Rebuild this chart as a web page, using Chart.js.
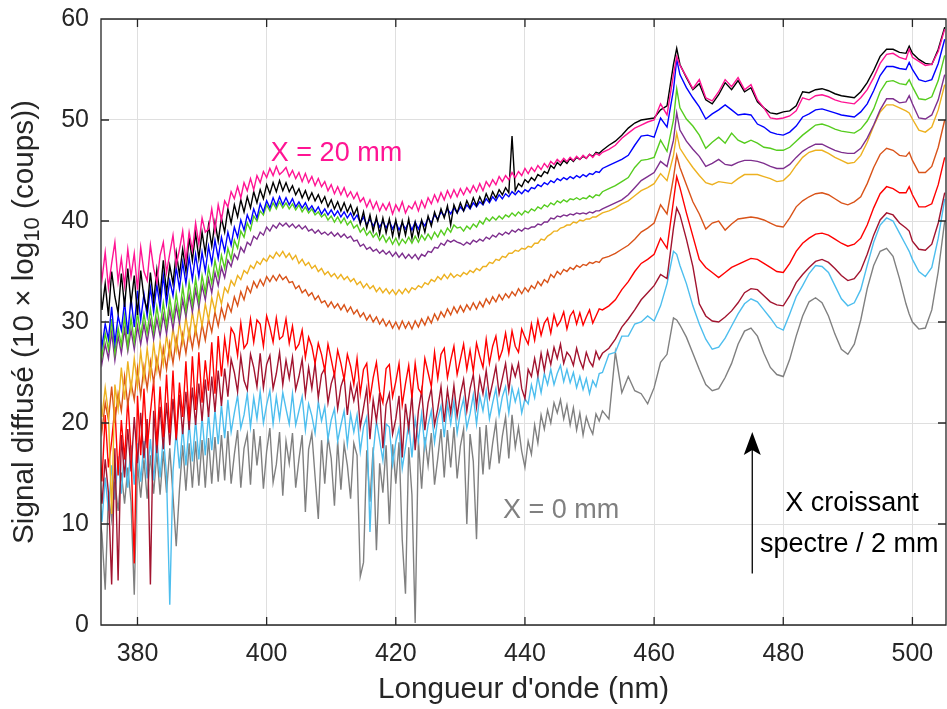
<!DOCTYPE html>
<html>
<head>
<meta charset="utf-8">
<script src="https://cdn.jsdelivr.net/npm/chart.js@4.4.1/dist/chart.umd.min.js"></script>
<style>
  html, body { margin: 0; padding: 0; background: #fff; }
  canvas { display: block; }
</style>
</head>
<body>
<canvas id="chart" width="947" height="709"></canvas>
<script>
// wavelength grid (nm): 0.5 nm through the noisy part, 1 nm after, plus the two sharp peaks
const WAVELENGTH = [
  374, 374.5, 375, 375.5, 376, 376.5, 377, 377.5, 378, 378.5,
  379, 379.5, 380, 380.5, 381, 381.5, 382, 382.5, 383, 383.5,
  384, 384.5, 385, 385.5, 386, 386.5, 387, 387.5, 388, 388.5,
  389, 389.5, 390, 390.5, 391, 391.5, 392, 392.5, 393, 393.5,
  394, 394.5, 395, 395.5, 396, 396.5, 397, 397.5, 398, 398.5,
  399, 399.5, 400, 400.5, 401, 401.5, 402, 402.5, 403, 403.5,
  404, 404.5, 405, 405.5, 406, 406.5, 407, 407.5, 408, 408.5,
  409, 409.5, 410, 410.5, 411, 411.5, 412, 412.5, 413, 413.5,
  414, 414.5, 415, 415.5, 416, 416.5, 417, 417.5, 418, 418.5,
  419, 419.5, 420, 420.5, 421, 421.5, 422, 422.5, 423, 423.5,
  424, 424.5, 425, 425.5, 426, 426.5, 427, 427.5, 428, 428.5,
  429, 429.5, 430, 430.5, 431, 431.5, 432, 432.5, 433, 433.5,
  434, 434.5, 435, 435.5, 436, 436.5, 437, 437.5, 438, 438.5,
  439, 439.5, 440, 440.5, 441, 441.5, 442, 442.5, 443, 443.5,
  444, 444.5, 445, 445.5, 446, 446.5, 447, 447.5, 448, 448.5,
  449, 449.5, 450, 450.5, 451, 451.5,
  452, 453, 454, 455, 456, 457, 458, 459, 460, 461, 462, 463,
  463.5,
  464, 465, 466, 467, 468, 469, 470, 471, 472, 473,
  474, 475, 476, 477, 478, 479, 480, 481, 482, 483,
  484, 485, 486, 487, 488, 489, 490, 491, 492, 493,
  494, 495, 496, 497, 498, 499,
  499.5,
  500, 501, 502, 503, 504, 505
];

// one spectrum per 2 mm step, X = 20 mm down to X = 0 mm
const X20 = [
  37.6, 34.2, 36.9, 33.4, 35.8, 37.9, 34.0, 36.3, 33.6, 37.2,
  34.5, 36.8, 33.2, 37.4, 35.0, 34.1, 37.6, 35.3, 33.9, 36.6,
  37.9, 34.9, 36.8, 38.6, 35.6, 37.2, 39.0, 36.0, 38.9, 37.1,
  39.8, 37.7, 40.3, 38.9, 39.2, 41.2, 39.0, 41.6, 40.1, 42.0,
  41.4, 42.9, 42.2, 43.4, 42.3, 43.8, 43.0, 44.2, 43.1, 44.5,
  43.8, 44.9, 44.3, 45.2, 44.5, 45.4, 44.6, 44.9, 45.3, 44.4,
  45.0, 44.2, 44.8, 43.9, 44.7, 43.8, 44.4, 43.5, 44.2, 43.4,
  43.9, 43.0, 43.6, 42.7, 43.4, 42.6, 43.3, 42.4, 42.9, 42.2,
  42.8, 41.9, 42.3, 41.4, 42.1, 41.2, 41.9, 41.0, 41.7, 41.1,
  41.8, 40.7, 41.6, 41.0, 41.9, 40.8, 41.5, 41.2, 41.9, 41.0,
  42.0, 41.3, 42.3, 41.7, 42.6, 41.9, 42.8, 42.1, 43.0, 42.3,
  43.1, 42.4, 43.2, 42.6, 43.3, 42.8, 43.5, 42.9, 43.7, 43.0,
  43.9, 43.4, 44.1, 43.6, 44.4, 43.9, 44.5, 44.1, 44.8, 44.3,
  44.9, 44.5, 45.2, 44.7, 45.3, 44.9, 45.5, 45.1, 45.7, 45.3,
  45.9, 45.6, 46.1, 45.8, 46.2, 45.9, 46.3, 46.0, 46.4, 46.1,
  46.5, 46.2, 46.6, 46.3, 46.7, 46.5,
  46.8, 47.1, 47.5, 48.2, 48.7, 49.2, 49.5, 49.8, 50.0, 51.6, 50.5, 54.5,
  56.3,
  55.4, 54.3, 53.1, 54.0, 52.2, 51.9, 52.8, 54.0, 53.3, 54.2,
  53.0, 53.5, 52.0, 51.2, 50.2, 50.1, 50.2, 50.4, 50.9, 52.2,
  52.0, 52.4, 52.5, 52.3, 52.0, 51.8, 51.7, 51.6, 52.2, 53.0,
  54.2, 55.6, 56.5, 56.6, 56.2, 56.0,
  57.0,
  56.2, 55.8, 55.4, 55.5, 56.8, 59.0
];
const X18 = [
  35.6, 31.2, 33.8, 30.6, 35.0, 32.5, 30.9, 34.8, 31.5, 35.3,
  31.8, 34.6, 30.7, 35.1, 32.4, 31.2, 34.9, 32.0, 35.2, 32.6,
  36.1, 32.9, 35.6, 33.8, 36.9, 34.7, 37.2, 35.0, 38.3, 36.1,
  38.8, 36.3, 38.9, 36.8, 39.6, 37.5, 39.9, 38.0, 40.3, 38.9,
  41.2, 39.8, 41.6, 40.4, 42.1, 40.9, 42.4, 41.3, 42.9, 41.8,
  43.1, 42.2, 43.6, 42.7, 43.8, 42.9, 44.0, 43.0, 43.8, 42.9,
  43.5, 42.6, 43.2, 42.3, 43.0, 42.1, 42.8, 42.0, 42.6, 41.8,
  42.4, 41.4, 42.1, 41.2, 41.9, 41.0, 41.8, 40.9, 41.6, 40.6,
  41.3, 39.7, 40.9, 39.3, 40.6, 39.0, 40.4, 38.7, 40.3, 38.8,
  40.2, 38.5, 40.1, 38.4, 40.0, 38.6, 40.2, 38.3, 39.9, 38.5,
  40.1, 38.9, 40.5, 39.5, 40.9, 40.0, 41.2, 40.3, 41.5, 39.6,
  41.6, 40.8, 41.8, 41.0, 42.0, 41.3, 42.3, 41.5, 42.4, 41.7,
  42.7, 42.0, 42.9, 42.3, 43.1, 42.6, 43.3, 42.8, 48.4, 43.0,
  43.7, 43.4, 44.1, 43.8, 44.3, 44.0, 44.6, 44.4, 44.9, 44.7,
  45.5, 45.2, 45.8, 45.5, 46.0, 45.7, 46.2, 45.9, 46.3, 46.1,
  46.4, 46.2, 46.6, 46.4, 46.8, 46.7,
  47.0, 47.5, 47.9, 48.5, 49.2, 49.7, 50.0, 50.1, 50.2, 51.0, 51.4, 55.5,
  57.1,
  55.5, 54.2, 53.0, 53.6, 52.0, 51.6, 52.5, 53.7, 53.0, 53.9,
  52.8, 53.2, 51.8, 51.2, 50.7, 50.6, 50.8, 50.9, 51.4, 52.8,
  52.7, 53.0, 53.1, 52.9, 52.6, 52.4, 52.3, 52.2, 52.8, 53.7,
  54.9, 56.3, 57.0, 57.0, 56.7, 56.6,
  57.3,
  56.6, 56.0, 55.6, 55.5, 57.0, 59.2
];
const X16 = [
  31.0, 27.6, 29.8, 28.3, 31.5, 27.9, 30.6, 29.2, 32.0, 28.8,
  32.4, 29.5, 33.1, 30.2, 32.8, 30.6, 33.4, 31.0, 33.7, 31.4,
  34.6, 31.8, 34.1, 32.6, 35.4, 33.3, 35.9, 33.8, 36.4, 34.2,
  36.7, 34.5, 36.9, 35.0, 37.5, 35.8, 38.1, 36.3, 38.4, 37.0,
  38.9, 37.6, 39.4, 38.4, 40.1, 39.1, 40.6, 39.8, 41.2, 40.3,
  41.7, 40.9, 42.0, 41.3, 42.3, 41.5, 42.4, 41.6, 42.3, 41.6,
  42.2, 41.4, 41.9, 41.3, 41.8, 41.1, 41.5, 40.9, 41.4, 40.7,
  41.2, 40.6, 41.1, 40.5, 41.0, 40.4, 40.9, 40.3, 40.8, 40.1,
  40.6, 39.8, 40.4, 39.6, 40.2, 39.5, 40.1, 39.4, 40.0, 39.3,
  40.0, 39.2, 39.9, 39.1, 39.8, 39.2, 39.9, 39.1, 39.9, 39.2,
  40.0, 39.5, 40.3, 39.8, 40.6, 40.2, 40.9, 40.5, 41.2, 40.7,
  41.3, 40.8, 41.4, 41.0, 41.6, 41.2, 41.8, 41.4, 41.9, 41.6,
  42.2, 41.8, 42.4, 42.0, 42.6, 42.2, 42.7, 42.4, 42.9, 42.6,
  43.0, 42.7, 43.1, 42.9, 43.3, 43.2, 43.6, 43.4, 43.8, 43.6,
  44.0, 43.8, 44.2, 44.0, 44.3, 44.1, 44.4, 44.2, 44.5, 44.3,
  44.6, 44.4, 44.7, 44.6, 44.9, 44.8,
  45.2, 45.5, 45.8, 46.1, 46.5, 47.5, 48.4, 48.5, 48.3, 50.2, 49.3, 53.0,
  56.0,
  54.5, 53.2, 52.2, 51.3, 50.1, 50.6, 51.0, 51.5, 51.0, 50.5,
  50.6, 50.5, 49.6, 49.3, 48.8, 48.6, 48.5, 48.8, 49.4, 50.3,
  50.6, 51.0, 51.1, 50.9, 50.7, 50.5, 50.4, 50.3, 50.8, 51.6,
  52.9, 54.4, 55.3, 55.3, 55.1, 55.0,
  55.7,
  55.0, 54.0, 53.8, 54.0, 55.6, 58.0
];
const X14 = [
  29.8, 26.6, 28.9, 27.3, 30.3, 26.9, 29.4, 27.7, 30.6, 27.5,
  30.4, 28.0, 31.0, 28.6, 30.8, 28.9, 31.3, 29.0, 31.5, 29.4,
  31.9, 29.6, 32.4, 30.2, 32.8, 30.6, 33.5, 31.1, 33.9, 31.7,
  34.3, 32.0, 34.6, 32.9, 35.4, 33.8, 36.1, 34.5, 36.6, 35.3,
  37.3, 36.2, 38.1, 37.3, 39.0, 38.4, 39.8, 39.1, 40.5, 40.0,
  41.0, 40.6, 41.6, 41.0, 41.8, 41.2, 41.9, 41.3, 41.8, 41.2,
  41.7, 41.1, 41.6, 40.9, 41.4, 40.8, 41.2, 40.6, 40.9, 40.4,
  40.7, 40.1, 40.5, 39.9, 40.4, 39.8, 40.3, 39.6, 40.0, 39.3,
  39.6, 38.9, 39.3, 38.6, 39.0, 38.4, 38.8, 38.1, 38.6, 37.9,
  38.4, 37.7, 38.3, 37.6, 38.2, 37.8, 38.4, 37.8, 38.5, 37.9,
  38.6, 38.1, 38.7, 38.2, 38.9, 38.4, 39.1, 38.6, 39.3, 38.9,
  39.6, 39.3, 39.4, 39.0, 39.5, 39.2, 39.7, 39.4, 40.0, 39.7,
  40.3, 40.0, 40.4, 40.1, 40.5, 40.2, 40.6, 40.4, 40.8, 40.5,
  40.9, 40.6, 41.0, 40.8, 41.2, 41.0, 41.4, 41.2, 41.6, 41.4,
  41.8, 41.6, 42.0, 41.8, 42.1, 41.9, 42.2, 42.1, 42.3, 42.1,
  42.3, 42.2, 42.5, 42.3, 42.6, 42.5,
  42.9, 43.2, 43.5, 43.9, 44.3, 45.3, 46.0, 46.1, 46.3, 48.0, 46.9, 50.0,
  53.1,
  51.2, 50.1, 49.4, 48.5, 47.2, 47.8, 48.3, 47.7, 48.7, 48.0,
  47.7, 48.0, 47.7, 47.3, 47.2, 47.0, 47.0, 47.3, 47.9, 48.5,
  49.0, 49.5, 49.6, 49.4, 49.1, 48.9, 48.8, 48.7, 49.1, 49.9,
  51.1, 52.8, 53.8, 53.9, 53.6, 53.5,
  54.0,
  53.3, 52.1, 52.0, 52.3, 53.9, 56.4
];
const X12 = [
  28.3, 25.9, 27.8, 26.4, 29.0, 26.2, 28.6, 26.9, 29.3, 27.1,
  29.2, 27.3, 29.6, 27.8, 29.8, 28.0, 30.1, 28.3, 30.3, 28.6,
  30.7, 28.8, 31.2, 29.3, 31.6, 29.9, 32.2, 30.5, 32.7, 31.0,
  33.2, 31.4, 33.6, 32.2, 34.3, 32.9, 34.9, 33.6, 35.4, 34.4,
  36.1, 35.5, 36.7, 36.2, 37.4, 36.9, 37.9, 37.6, 38.5, 38.2,
  38.9, 38.6, 39.4, 39.0, 39.6, 39.3, 39.8, 39.5, 39.8, 39.4,
  39.7, 39.3, 39.6, 39.2, 39.5, 39.0, 39.2, 38.8, 39.1, 38.7,
  38.9, 38.6, 38.9, 38.5, 38.8, 38.4, 38.7, 38.3, 38.5, 38.0,
  38.1, 37.5, 37.7, 37.2, 37.4, 37.0, 37.2, 36.8, 37.1, 36.7,
  37.0, 36.5, 36.9, 36.4, 36.8, 36.3, 36.7, 36.3, 36.7, 36.2,
  36.7, 36.5, 37.0, 36.9, 37.4, 37.3, 37.8, 37.6, 38.1, 37.9,
  38.1, 37.9, 37.8, 37.6, 37.9, 37.7, 38.1, 37.9, 38.2, 38.0,
  38.4, 38.2, 38.6, 38.4, 38.8, 38.6, 38.9, 38.7, 39.1, 38.9,
  39.2, 39.0, 39.3, 39.2, 39.4, 39.4, 39.7, 39.6, 39.9, 39.9,
  40.3, 40.2, 40.5, 40.4, 40.6, 40.5, 40.7, 40.6, 40.8, 40.7,
  40.8, 40.7, 40.9, 40.8, 41.0, 41.0,
  41.2, 41.5, 41.8, 42.1, 42.6, 43.3, 44.0, 44.4, 44.8, 45.9, 45.4, 48.0,
  50.7,
  49.0, 47.9, 47.1, 46.4, 45.4, 45.7, 46.1, 45.6, 45.5, 45.8,
  46.0, 46.0, 45.9, 45.7, 45.4, 45.2, 45.2, 45.6, 46.3, 46.9,
  47.3, 47.6, 47.6, 47.3, 47.0, 46.8, 46.7, 46.7, 47.2, 48.2,
  49.5, 51.0, 52.1, 52.1, 51.7, 51.8,
  52.4,
  51.6, 50.2, 50.1, 50.5, 52.0, 54.5
];
const X10 = [
  24.2, 20.6, 23.5, 21.0, 11.0, 23.8, 21.4, 25.5, 22.3, 26.1,
  23.2, 26.4, 23.7, 27.1, 24.3, 27.4, 24.6, 27.9, 25.2, 28.0,
  25.8, 28.7, 26.6, 29.4, 27.2, 30.0, 27.9, 30.5, 28.4, 31.0,
  28.9, 31.4, 29.6, 31.8, 30.2, 32.4, 31.1, 33.0, 31.8, 33.4,
  32.9, 34.1, 33.6, 34.6, 34.2, 35.1, 34.8, 35.6, 35.3, 36.0,
  35.7, 36.3, 36.0, 36.6, 36.3, 36.9, 36.5, 37.0, 36.4, 36.8,
  36.2, 36.6, 35.8, 36.2, 35.6, 35.9, 35.3, 35.6, 35.0, 35.3,
  34.7, 35.0, 34.5, 34.8, 34.3, 34.7, 34.2, 34.5, 34.0, 34.3,
  33.7, 34.0, 33.4, 33.8, 33.3, 33.6, 33.0, 33.4, 32.9, 33.3,
  32.8, 33.2, 32.7, 33.2, 32.8, 33.3, 32.9, 33.4, 33.2, 33.6,
  33.4, 33.9, 33.7, 34.2, 34.0, 34.5, 34.2, 34.7, 34.3, 34.8,
  34.4, 34.7, 34.5, 34.9, 34.7, 35.1, 34.9, 35.3, 35.1, 35.5,
  35.5, 35.9, 35.8, 36.2, 36.1, 36.5, 36.4, 36.8, 36.8, 37.1,
  37.0, 37.3, 37.2, 37.5, 37.4, 37.8, 37.8, 38.2, 38.1, 38.5,
  38.7, 39.0, 39.0, 39.3, 39.4, 39.6, 39.6, 39.9, 39.8, 40.1,
  40.0, 40.2, 40.2, 40.4, 40.4, 40.6,
  40.8, 41.0, 41.3, 41.7, 42.0, 42.5, 43.0, 43.3, 43.7, 44.7, 44.0, 46.5,
  48.7,
  47.2, 46.2, 45.3, 44.5, 43.8, 43.6, 43.9, 43.8, 43.7, 44.2,
  44.6, 44.6, 44.6, 44.4, 44.2, 43.9, 44.0, 44.6, 45.5, 46.3,
  46.8, 47.0, 47.0, 46.7, 46.3, 46.0, 45.7, 45.8, 46.5, 47.8,
  49.4, 50.8, 51.5, 51.5, 51.2, 50.9,
  50.7,
  50.1, 49.0, 48.8, 49.3, 51.0, 53.5
];
const X8 = [
  22.6, 19.2, 22.0, 20.3, 23.6, 20.0, 22.9, 21.2, 24.6, 21.8,
  24.0, 22.3, 25.4, 22.7, 25.6, 23.4, 26.1, 24.0, 26.4, 24.6,
  27.4, 25.3, 27.9, 25.9, 28.4, 26.5, 28.8, 26.9, 29.2, 27.4,
  29.4, 27.6, 29.8, 28.2, 30.3, 29.0, 31.0, 29.6, 31.4, 30.3,
  31.8, 31.0, 32.5, 31.6, 33.0, 32.2, 33.5, 32.9, 34.0, 33.4,
  34.2, 33.6, 34.5, 34.0, 34.6, 34.1, 34.7, 34.2, 34.5, 33.9,
  34.0, 33.3, 33.6, 32.9, 33.2, 32.6, 32.9, 32.2, 32.6, 31.9,
  32.1, 31.5, 32.0, 31.4, 31.8, 31.2, 31.7, 31.0, 31.5, 30.8,
  31.2, 30.5, 30.9, 30.2, 30.7, 30.0, 30.5, 29.8, 30.3, 29.6,
  30.1, 29.4, 30.0, 29.3, 30.1, 29.4, 30.0, 29.3, 30.1, 29.5,
  30.3, 29.7, 30.5, 29.9, 30.8, 30.2, 31.0, 30.5, 31.3, 30.7,
  31.5, 30.9, 31.6, 31.0, 31.7, 31.2, 31.9, 31.3, 32.0, 31.5,
  32.3, 31.8, 32.5, 32.0, 32.7, 32.2, 32.8, 32.4, 33.0, 32.6,
  33.3, 32.8, 33.4, 33.0, 33.6, 33.3, 34.0, 33.6, 34.2, 33.9,
  34.7, 34.4, 35.0, 34.7, 35.2, 35.0, 35.4, 35.2, 35.6, 35.4,
  35.7, 35.6, 35.9, 35.8, 36.0, 35.9,
  36.3, 36.5, 36.8, 37.2, 37.6, 38.2, 38.9, 39.3, 39.8, 41.6, 40.7, 44.3,
  46.5,
  45.3, 43.6, 41.9, 40.7, 39.2, 39.8, 40.0, 39.1, 39.7, 40.2,
  40.3, 40.4, 40.3, 40.1, 39.8, 39.5, 39.4, 40.3, 41.4, 42.0,
  42.4, 42.7, 42.8, 42.6, 42.2, 41.8, 41.6, 41.9, 42.4, 43.7,
  45.3, 46.6, 47.2, 47.0, 46.5, 46.4,
  46.8,
  46.0, 44.8, 44.8, 45.4, 47.3, 50.0
];
const X6 = [
  19.4, 14.2, 20.8, 15.6, 18.2, 21.6, 14.8, 20.3, 16.4, 22.4,
  17.2, 6.1, 22.7, 16.8, 23.4, 17.5, 21.0, 24.2, 17.8, 23.6,
  18.6, 24.8, 19.0, 25.2, 18.5, 24.0, 20.6, 26.1, 20.2, 26.6,
  21.3, 27.0, 22.0, 26.2, 23.2, 28.0, 22.9, 28.6, 24.6, 28.4,
  26.0, 29.4, 28.8, 26.7, 29.9, 27.4, 27.9, 30.3, 28.0, 30.2,
  29.8, 27.6, 30.6, 29.5, 28.0, 30.4, 28.3, 28.6, 30.3, 27.9,
  29.6, 27.3, 27.8, 29.2, 26.5, 28.5, 27.6, 25.9, 27.9, 26.8,
  25.2, 27.8, 26.3, 24.7, 27.2, 25.9, 24.3, 26.8, 25.6, 23.8,
  26.4, 22.9, 25.3, 25.9, 22.4, 24.5, 26.0, 23.1, 22.0, 25.4,
  25.8, 22.6, 24.1, 25.9, 21.8, 23.9, 25.7, 22.5, 25.9, 23.4,
  22.9, 26.4, 25.0, 23.6, 27.0, 24.4, 26.8, 27.4, 24.5, 26.2,
  27.6, 24.8, 26.3, 27.8, 25.3, 27.2, 25.1, 27.9, 26.6, 25.5,
  28.3, 25.9, 27.6, 28.6, 26.3, 27.2, 28.9, 26.9, 29.1, 27.6,
  27.0, 29.3, 28.5, 27.8, 29.8, 28.2, 30.2, 28.7, 29.9, 30.4,
  28.9, 30.7, 29.6, 30.1, 31.0, 29.3, 30.6, 31.1, 29.8, 30.9,
  29.7, 30.5, 31.2, 29.9, 30.6, 31.3,
  31.2, 31.6, 32.2, 33.2, 34.0, 35.0, 35.8, 36.2, 36.7, 38.3, 37.3, 42.0,
  44.4,
  43.3, 40.8, 38.5, 36.2, 35.4, 34.9, 34.4, 34.9, 35.4, 35.7,
  36.0, 36.3, 36.2, 35.8, 35.4, 35.0, 34.9, 35.8, 37.0, 37.8,
  38.3, 38.7, 38.8, 38.6, 38.2, 37.8, 37.5, 37.7, 38.3, 39.6,
  41.3, 42.7, 43.4, 43.2, 42.8, 42.8,
  43.4,
  42.6, 41.4, 41.4, 41.7, 43.6, 46.3
];
const X4 = [
  15.6, 12.0, 16.4, 13.1, 4.0, 17.5, 4.4, 18.8, 14.6, 19.4,
  15.2, 20.6, 16.0, 21.0, 16.5, 20.4, 4.0, 21.2, 17.0, 21.6,
  17.4, 22.0, 17.8, 22.4, 18.3, 22.8, 18.9, 23.1, 19.3, 23.5,
  19.8, 23.9, 20.2, 24.3, 20.6, 24.6, 21.1, 25.2, 21.7, 25.4,
  22.6, 26.3, 25.0, 23.1, 26.6, 24.2, 23.3, 26.8, 25.5, 23.6,
  26.9, 23.5, 25.8, 26.7, 23.4, 24.9, 27.0, 23.8, 26.2, 24.4,
  26.5, 23.3, 24.6, 26.3, 22.8, 25.5, 23.4, 25.9, 22.5, 24.8,
  25.4, 22.0, 23.9, 24.9, 21.4, 23.6, 24.6, 20.8, 23.8, 22.2,
  23.7, 19.6, 21.5, 23.4, 18.4, 22.3, 20.2, 23.0, 17.5, 21.8,
  22.9, 18.9, 20.4, 22.7, 16.6, 21.9, 19.4, 22.8, 17.3, 21.2,
  23.2, 19.3, 22.0, 23.4, 19.8, 21.4, 23.6, 20.1, 23.3, 21.0,
  23.7, 20.7, 22.8, 24.3, 21.2, 23.4, 24.8, 21.6, 24.5, 22.9,
  25.2, 22.5, 24.0, 25.6, 22.9, 24.4, 25.9, 23.2, 25.7, 24.6,
  25.9, 23.4, 22.4, 25.3, 24.6, 26.4, 24.7, 26.9, 25.2, 27.1,
  25.8, 27.5, 26.4, 27.8, 25.9, 27.0, 26.6, 25.7, 27.4, 26.2,
  25.4, 27.0, 26.1, 25.6, 27.1, 26.3,
  26.9, 27.4, 28.3, 29.5, 30.3, 31.2, 32.2, 32.9, 33.6, 34.7, 34.3, 39.3,
  41.3,
  40.6, 38.2, 35.5, 31.8, 30.6, 30.1, 30.0, 30.5, 31.1, 31.9,
  32.9, 33.3, 33.2, 32.6, 32.0, 31.7, 31.6, 32.6, 33.9, 34.7,
  35.4, 36.0, 36.2, 35.9, 35.3, 34.6, 34.1, 34.3, 35.1, 36.7,
  38.6, 40.1, 40.8, 40.6, 39.8, 39.3,
  39.0,
  38.0, 37.2, 37.1, 37.7, 39.8, 42.8
];
const X2 = [
  13.4, 10.2, 14.6, 11.3, 15.8, 12.4, 16.7, 13.0, 17.5, 13.6,
  17.8, 13.9, 18.0, 14.2, 18.2, 14.5, 18.4, 14.3, 18.6, 14.6,
  18.7, 14.8, 2.0, 15.2, 19.2, 15.5, 19.6, 15.8, 20.0, 16.2,
  20.3, 16.4, 20.6, 16.8, 20.9, 17.3, 21.3, 17.9, 21.8, 18.5,
  22.3, 19.1, 21.0, 22.7, 19.5, 20.8, 22.9, 19.6, 22.5, 20.4,
  23.1, 20.0, 21.8, 23.2, 19.9, 22.6, 20.4, 23.0, 21.4, 19.9,
  22.9, 19.8, 21.2, 22.6, 19.3, 21.9, 20.7, 19.0, 22.1, 20.2,
  21.6, 18.4, 20.3, 21.4, 18.2, 19.8, 21.2, 17.9, 20.9, 19.1,
  20.8, 17.2, 19.6, 20.6, 9.2, 17.0, 20.2, 18.3, 16.3, 19.9,
  19.6, 15.9, 18.1, 19.5, 15.5, 17.6, 20.0, 16.6, 20.4, 18.2,
  20.9, 17.6, 19.8, 21.2, 18.1, 20.5, 21.7, 18.6, 21.9, 19.9,
  22.2, 19.0, 21.1, 22.4, 19.5, 20.9, 22.8, 19.9, 22.7, 21.2,
  23.2, 20.4, 22.0, 23.4, 20.8, 22.6, 23.6, 21.0, 23.5, 22.1,
  23.3, 21.0, 22.4, 21.9, 23.8, 22.5, 24.6, 23.0, 24.9, 23.8,
  25.3, 23.8, 24.9, 25.7, 24.1, 25.3, 24.0, 25.0, 23.5, 24.6,
  23.3, 24.4, 22.9, 24.2, 23.6, 24.9,
  25.0, 26.8, 27.0, 28.6, 28.6, 29.8, 30.0, 30.6, 30.1, 31.6, 33.8, 37.0,
  36.7,
  35.6, 33.8, 31.6, 29.8, 28.3, 27.3, 27.5, 28.4, 29.6, 30.8,
  31.8, 32.3, 32.0, 31.2, 30.4, 29.5, 29.2, 30.8, 32.5, 33.6,
  34.8, 35.6, 35.5, 34.9, 33.6, 32.3, 31.6, 31.9, 33.2, 35.6,
  37.9, 39.6, 40.3, 40.0, 38.8, 37.6,
  37.0,
  36.2, 35.0, 34.5, 35.4, 38.3, 42.2
];
const X0 = [
  11.6, 9.0, 3.5, 12.8, 10.4, 14.2, 11.3, 15.1, 12.0, 15.6,
  12.2, 3.0, 16.0, 12.6, 16.4, 12.5, 16.8, 13.0, 17.1, 12.9,
  17.2, 13.1, 17.5, 12.8, 7.8, 13.4, 17.8, 13.3, 18.0, 13.6,
  18.2, 13.8, 18.3, 13.6, 18.5, 14.0, 18.6, 14.2, 18.8, 14.3,
  19.2, 14.0, 16.9, 19.3, 13.6, 17.5, 18.9, 13.9, 19.4, 15.8,
  18.7, 13.5, 17.2, 19.5, 14.1, 15.9, 19.1, 12.8, 18.2, 16.0,
  19.0, 13.6, 16.4, 18.8, 11.2, 17.4, 19.0, 14.7, 10.5, 18.3,
  14.0, 18.6, 16.5, 11.8, 18.2, 13.4, 17.9, 15.8, 12.5, 18.0,
  16.8, 4.8, 6.2, 17.3, 12.2, 17.6, 7.4, 16.0, 13.1, 17.8,
  10.0, 17.9, 14.0, 18.1, 8.4, 3.1, 17.6, 12.9, 0.2, 18.3,
  13.5, 18.6, 15.8, 19.0, 13.9, 16.5, 19.4, 14.6, 19.3, 15.6,
  19.6, 14.5, 17.7, 19.4, 10.0, 18.9, 16.2, 8.5, 19.6, 14.9,
  19.8, 15.4, 18.0, 20.1, 16.0, 18.7, 20.6, 16.5, 20.8, 17.6,
  19.6, 17.2, 15.6, 18.2, 16.9, 19.8, 18.0, 20.8, 19.4, 21.3,
  20.0, 22.0, 21.0, 22.3, 20.4, 21.8, 19.8, 21.5, 19.3, 21.0,
  18.8, 20.6, 19.6, 18.9, 20.9, 20.2,
  21.2, 20.4, 27.0, 23.0, 24.6, 23.2, 22.9, 21.9, 23.5, 26.0, 26.8, 30.4,
  30.2,
  29.7, 28.5, 26.9, 25.3, 23.8, 23.2, 23.4, 24.5, 25.9, 27.8,
  29.1, 29.4, 28.6, 26.9, 25.5, 24.8, 24.6, 26.3, 28.6, 30.6,
  32.0, 32.4, 31.9, 30.6, 28.8, 27.3, 26.8, 27.8, 30.2, 33.3,
  35.6, 37.0, 37.3, 36.5, 34.3, 31.8,
  30.8,
  30.0, 29.3, 29.4, 31.2, 35.0, 40.0
];

const XTICKS = [380, 400, 420, 440, 460, 480, 500];
const YTICKS = [0, 10, 20, 30, 40, 50, 60];

const FONT = '"Liberation Sans", Arial, Helvetica, sans-serif';
const INK = "#262626";

// first entry is drawn on top (Chart.js paints dataset 0 last)
const series = [
  { name: "X = 20 mm", values: X20, color: "#ff1493" },
  { name: "X = 18 mm", values: X18, color: "#000000" },
  { name: "X = 16 mm", values: X16, color: "#0000ff" },
  { name: "X = 14 mm", values: X14, color: "#55cc1e" },
  { name: "X = 12 mm", values: X12, color: "#7e2f8e" },
  { name: "X = 10 mm", values: X10, color: "#edb120" },
  { name: "X = 8 mm",  values: X8,  color: "#d95319" },
  { name: "X = 6 mm",  values: X6,  color: "#ff0000" },
  { name: "X = 4 mm",  values: X4,  color: "#a2142f" },
  { name: "X = 2 mm",  values: X2,  color: "#4dbeee" },
  { name: "X = 0 mm",  values: X0,  color: "#808080" }
];
series.forEach(s => { if (s.values.length !== WAVELENGTH.length) console.warn(s.name, s.values.length, WAVELENGTH.length); });

// text placed in data units (nm, signal), like text() calls on the axes
const notes = [
  { text: "X = 20 mm", nm: 400.65, v: 45.95, color: "#ff1493" },
  { text: "X = 0 mm", nm: 436.6, v: 10.55, color: "#808080" },
  { text: "X croissant", nm: 480.3, v: 11.3, color: "#000000" },
  { text: "spectre / 2 mm", nm: 476.4, v: 7.2, color: "#000000" }
];
const arrow = { nm: 475.2, from: 5.1, to: 19.1 };

const frame = {
  id: "frame",
  afterDraw(chart) {
    const { ctx, chartArea: a, scales: { x, y } } = chart;
    ctx.save();
    // box and inward ticks on all four sides
    ctx.strokeStyle = INK; ctx.lineWidth = 1.3;
    ctx.beginPath();
    ctx.rect(a.left, a.top, a.right - a.left, a.bottom - a.top);
    XTICKS.forEach(v => {
      const p = x.getPixelForValue(v);
      ctx.moveTo(p, a.bottom); ctx.lineTo(p, a.bottom - 8);
      ctx.moveTo(p, a.top); ctx.lineTo(p, a.top + 8);
    });
    YTICKS.forEach(v => {
      const p = y.getPixelForValue(v);
      ctx.moveTo(a.left, p); ctx.lineTo(a.left + 8, p);
      ctx.moveTo(a.right, p); ctx.lineTo(a.right - 8, p);
    });
    ctx.stroke();

    // x title
    ctx.fillStyle = INK; ctx.textBaseline = "alphabetic";
    ctx.font = `29.7px ${FONT}`; ctx.textAlign = "center";
    ctx.fillText("Longueur d'onde (nm)", (a.left + a.right) / 2, 698);

    // y title with subscript, rotated
    const big = `29.7px ${FONT}`, small = `22px ${FONT}`;
    const parts = [
      { t: "Signal diffus\u00e9 (10 \u00d7 log", f: big, dy: 0 },
      { t: "10", f: small, dy: 6 },
      { t: " (coups))", f: big, dy: 0 }
    ];
    let total = 0;
    parts.forEach(p => { ctx.font = p.f; p.w = ctx.measureText(p.t).width; total += p.w; });
    ctx.translate(33, (a.top + a.bottom) / 2);
    ctx.rotate(-Math.PI / 2);
    ctx.textAlign = "left";
    let cx = -total / 2;
    parts.forEach(p => { ctx.font = p.f; ctx.fillText(p.t, cx, p.dy); cx += p.w; });
    ctx.setTransform(1, 0, 0, 1, 0, 0);

    // annotations
    ctx.font = `27px ${FONT}`; ctx.textAlign = "left";
    notes.forEach(n => {
      ctx.fillStyle = n.color;
      ctx.fillText(n.text, x.getPixelForValue(n.nm), y.getPixelForValue(n.v));
    });
    const ax = x.getPixelForValue(arrow.nm), ay0 = y.getPixelForValue(arrow.from), ay1 = y.getPixelForValue(arrow.to);
    ctx.strokeStyle = "#000"; ctx.fillStyle = "#000"; ctx.lineWidth = 1.3;
    ctx.beginPath(); ctx.moveTo(ax, ay0); ctx.lineTo(ax, ay1 + 10); ctx.stroke();
    ctx.beginPath(); ctx.moveTo(ax, ay1); ctx.lineTo(ax - 8.5, ay1 + 23); ctx.lineTo(ax, ay1 + 18); ctx.lineTo(ax + 8.5, ay1 + 23); ctx.closePath(); ctx.fill();
    ctx.restore();
  }
};

new Chart(document.getElementById("chart"), {
  type: "line",
  data: {
    datasets: series.map(s => ({
      label: s.name,
      data: WAVELENGTH.map((w, i) => ({ x: w, y: s.values[i] })),
      borderColor: s.color, borderWidth: 1.4,
      pointRadius: 0, tension: 0, fill: false
    }))
  },
  options: {
    responsive: false, animation: false, devicePixelRatio: 1,
    layout: { padding: { left: 0, right: 1, top: 19, bottom: 0 } },
    plugins: { legend: { display: false }, tooltip: { enabled: false } },
    scales: {
      x: {
        type: "linear", min: 374.35, max: 505.2,
        afterBuildTicks: s => { s.ticks = XTICKS.map(v => ({ value: v })); },
        afterFit: s => { s.height = 84; s.paddingLeft = 0; s.paddingRight = 0; },
        grid: { color: "#dfdfdf", lineWidth: 1, drawTicks: false },
        border: { display: false },
        ticks: { color: INK, font: { family: FONT, size: 25 }, padding: 14, maxRotation: 0 }
      },
      y: {
        type: "linear", min: 0, max: 60,
        afterBuildTicks: s => { s.ticks = YTICKS.map(v => ({ value: v })); },
        afterFit: s => { s.width = 101; s.paddingTop = 0; s.paddingBottom = 0; },
        grid: { color: "#dfdfdf", lineWidth: 1, drawTicks: false },
        border: { display: false },
        ticks: { color: INK, font: { family: FONT, size: 25 }, padding: 12 }
      }
    }
  },
  plugins: [frame]
});
</script>
</body>
</html>
